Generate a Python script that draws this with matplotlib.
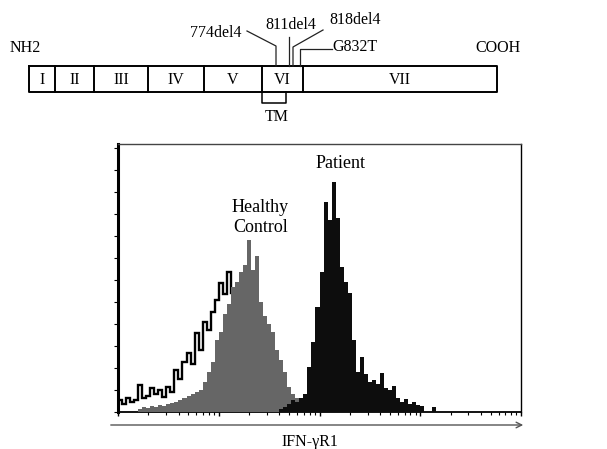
import numpy as np
import matplotlib.pyplot as plt

plt.rcParams['font.family'] = ['Liberation Serif', 'DejaVu Serif']

# Gene schematic (diagram units ~ pixels)
exon_edges = [29, 55, 94, 148, 204, 262, 303, 497]
exon_labels = ['I', 'II', 'III', 'IV', 'V', 'VI', 'VII']
mut_labels = ['774del4', '811del4', '818del4', 'G832T']
mut_sites = [276, 289, 293, 300]

# Flow histogram: 100 log-spaced bins over 10^0..10^4, counts per bin
iso_start = 0
iso_counts = [12, 8, 14, 10, 12, 27, 14, 16, 24, 18, 22, 15, 25, 20, 42, 33,
              50, 59, 48, 79, 62, 90, 82, 100, 112, 129, 118, 140, 119, 110,
              100, 85, 70, 55, 40, 28, 18, 12, 8, 5, 4, 4, 3, 3, 2, 2]
ctrl_start = 5
ctrl_counts = [3, 5, 4, 6, 5, 7, 6, 8, 9, 10, 12, 14, 16, 18, 20, 22, 30, 40,
               50, 72, 80, 98, 108, 125, 130, 140, 147, 172, 142, 156, 110,
               96, 88, 80, 62, 52, 40, 25, 18, 14, 10, 8, 6, 5, 4]
pat_start = 40
pat_counts = [3, 5, 8, 12, 10, 14, 18, 45, 70, 105, 140, 210, 192, 230, 194,
              145, 130, 119, 72, 40, 55, 38, 30, 32, 28, 39, 24, 22, 26, 14,
              10, 13, 8, 10, 7, 6, 0, 0, 5]

W, H = 607, 449
fig = plt.figure(figsize=(W / 100, H / 100), dpi=100)

# ---- top: exon map ----
top = fig.add_axes([0, 0, 1, 1])
top.set_xlim(0, W)
top.set_ylim(H, 0)
top.axis('off')

y0, y1 = 66, 92
top.plot([exon_edges[0], exon_edges[-1], exon_edges[-1], exon_edges[0], exon_edges[0]],
         [y0, y0, y1, y1, y0], color='black', lw=1.4)
for e in exon_edges[1:-1]:
    top.plot([e, e], [y0, y1], color='black', lw=1.4)
for i, lab in enumerate(exon_labels):
    xc = (exon_edges[i] + exon_edges[i + 1]) / 2
    top.text(xc, 80, lab, ha='center', va='center', fontsize=11.5)

top.text(25, 48, 'NH2', ha='center', va='center', fontsize=11.5)
top.text(498, 48, 'COOH', ha='center', va='center', fontsize=11.5)

# mutation leaders
lc = dict(color='#222222', lw=0.9)
top.plot([247, mut_sites[0], mut_sites[0]], [31, 46, y0], **lc)
top.plot([mut_sites[1], mut_sites[1]], [37, y0], **lc)
top.plot([323, mut_sites[2], mut_sites[2]], [30, 47, y0], **lc)
top.plot([332, mut_sites[3], mut_sites[3]], [49, 49, y0], **lc)
top.text(216, 33, mut_labels[0], ha='center', va='center', fontsize=11.5)
top.text(291, 25, mut_labels[1], ha='center', va='center', fontsize=11.5)
top.text(355, 20, mut_labels[2], ha='center', va='center', fontsize=11.5)
top.text(355, 47, mut_labels[3], ha='center', va='center', fontsize=11.5)

# transmembrane bracket
top.plot([262, 262, 286, 286], [y1, 103, 103, y1], color='black', lw=1.1)
top.text(277, 117, 'TM', ha='center', va='center', fontsize=11.5)

# axis arrow and label under histogram
top.annotate('', xy=(526, 425), xytext=(108, 425),
             arrowprops=dict(arrowstyle='->', color='#555555', lw=1.0))
top.text(310, 442, 'IFN-\u03b3R1', ha='center', va='center', fontsize=11.5)

# ---- bottom: histogram ----
ax = fig.add_axes([118 / W, 1 - 412 / H, (521 - 118) / W, (412 - 144) / H])
edges = 10 ** (0.04 * np.arange(101))

def series_edges(start, counts):
    return edges[start:start + len(counts) + 1]

ax.stairs(iso_counts, series_edges(iso_start, iso_counts), fill=False,
          color='black', lw=1.7, baseline=None, zorder=2)
ax.stairs(ctrl_counts, series_edges(ctrl_start, ctrl_counts), fill=True,
          color='#666666', zorder=3)
ax.stairs(pat_counts, series_edges(pat_start, pat_counts), fill=True,
          color='#0d0d0d', zorder=4)

ax.set_xscale('log')
ax.set_xlim(1, 1e4)
ax.set_ylim(0, 268)
ax.set_yticks(np.arange(0, 268, 22))
ax.set_yticklabels([])
ax.xaxis.set_major_formatter(plt.NullFormatter())
ax.xaxis.set_minor_formatter(plt.NullFormatter())
ax.tick_params(axis='x', which='major', direction='out', length=3, width=1)
ax.tick_params(axis='x', which='minor', direction='out', length=2, width=0.8)
ax.tick_params(axis='y', direction='out', length=3, width=0.8)

ax.spines['left'].set_linewidth(2.2)
ax.spines['bottom'].set_linewidth(1.3)
ax.spines['right'].set_linewidth(1.0)
ax.spines['top'].set_linewidth(1.0)
ax.spines['top'].set_color('#444444')

ax.text(10 ** ((341 - 119) / 100.5), 268 - (163 - 144), 'Patient',
        ha='center', va='center', fontsize=13)
ax.text(10 ** ((261 - 119) / 100.5), 268 - (208 - 144), 'Healthy',
        ha='center', va='center', fontsize=13)
ax.text(10 ** ((261 - 119) / 100.5), 268 - (227 - 144), 'Control',
        ha='center', va='center', fontsize=13)

fig.savefig('out.png', dpi=100)
